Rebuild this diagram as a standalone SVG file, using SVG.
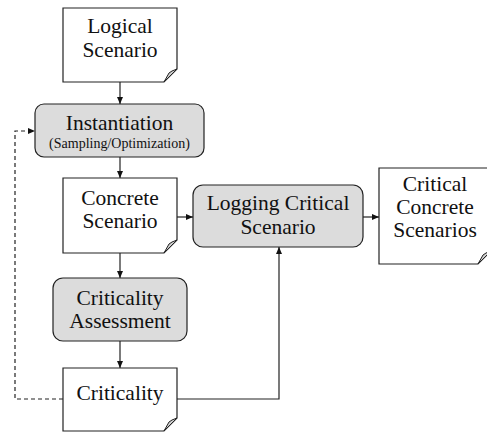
<svg xmlns="http://www.w3.org/2000/svg" width="487" height="432" viewBox="0 0 487 432">
<defs>
<marker id="ah" markerWidth="7" markerHeight="7" refX="7" refY="3.5" orient="auto" markerUnits="userSpaceOnUse">
<path d="M0,0.5 L7,3.5 L0,6.5 Z" fill="#111"/>
</marker>
</defs>
<style>
.doc{fill:#fff;stroke:#222;stroke-width:1.2}
.fold{fill:#d0d0d0;stroke:#222;stroke-width:1}
.proc{fill:#dcdcdc;stroke:#222;stroke-width:1.2}
.t{font-family:Liberation Serif,DejaVu Serif,Noto Serif,serif;font-size:21.5px;fill:#111;text-anchor:middle}
.s{font-family:Liberation Serif,DejaVu Serif,Noto Serif,serif;font-size:14px;fill:#111;text-anchor:middle}
.c{fill:none;stroke:#222;stroke-width:1.2}
.d{fill:none;stroke:#222;stroke-width:1.2;stroke-dasharray:4,3}
</style>
<rect width="487" height="432" fill="#fff"/>
<g id="connectors">
<line class="c" x1="120" y1="82" x2="120" y2="104" marker-end="url(#ah)"/>
<line class="c" x1="120" y1="157" x2="120" y2="178" marker-end="url(#ah)"/>
<line class="c" x1="177" y1="217" x2="193" y2="217" marker-end="url(#ah)"/>
<line class="c" x1="363" y1="217" x2="379" y2="217" marker-end="url(#ah)"/>
<line class="c" x1="120" y1="253" x2="120" y2="278" marker-end="url(#ah)"/>
<line class="c" x1="120" y1="341" x2="120" y2="368" marker-end="url(#ah)"/>
<path class="c" d="M177,399 H279 V247" marker-end="url(#ah)"/>
<path class="d" d="M63,399 H15 V131 H35" marker-end="url(#ah)"/>
</g>
<g id="logical-scenario">
<path class="doc" d="M63,8 H177 V69 L164,82 H63 Z"/>
<path class="fold" d="M164,82 L169,73 Q171,71 177,69 Z"/>
<text class="t" x="120" y="33">Logical</text>
<text class="t" x="120" y="57">Scenario</text>
</g>
<g id="instantiation">
<rect class="proc" x="35" y="104" width="169" height="53" rx="9"/>
<text class="t" x="119.5" y="130">Instantiation</text>
<text class="s" x="119.5" y="148">(Sampling/Optimization)</text>
</g>
<g id="concrete-scenario">
<path class="doc" d="M63,178 H177 V240 L164,253 H63 Z"/>
<path class="fold" d="M164,253 L169,244 Q171,242 177,240 Z"/>
<text class="t" x="120" y="205">Concrete</text>
<text class="t" x="120" y="228">Scenario</text>
</g>
<g id="logging">
<rect class="proc" x="193" y="185" width="170" height="62" rx="10"/>
<text class="t" x="278" y="210">Logging Critical</text>
<text class="t" x="278" y="234">Scenario</text>
</g>
<g id="critical-concrete-scenarios">
<path class="doc" d="M379,168 H491 V251 L478,264 H379 Z"/>
<path class="fold" d="M478,264 L483,255 Q485,253 491,251 Z"/>
<text class="t" x="435" y="191">Critical</text>
<text class="t" x="435" y="214">Concrete</text>
<text class="t" x="435" y="237">Scenarios</text>
</g>
<g id="criticality-assessment">
<rect class="proc" x="53" y="278" width="134" height="63" rx="10"/>
<text class="t" x="120" y="305">Criticality</text>
<text class="t" x="120" y="328">Assessment</text>
</g>
<g id="criticality">
<path class="doc" d="M63,368 H177 V418 L164,431 H63 Z"/>
<path class="fold" d="M164,431 L169,422 Q171,420 177,418 Z"/>
<text class="t" x="120" y="400">Criticality</text>
</g>
</svg>
